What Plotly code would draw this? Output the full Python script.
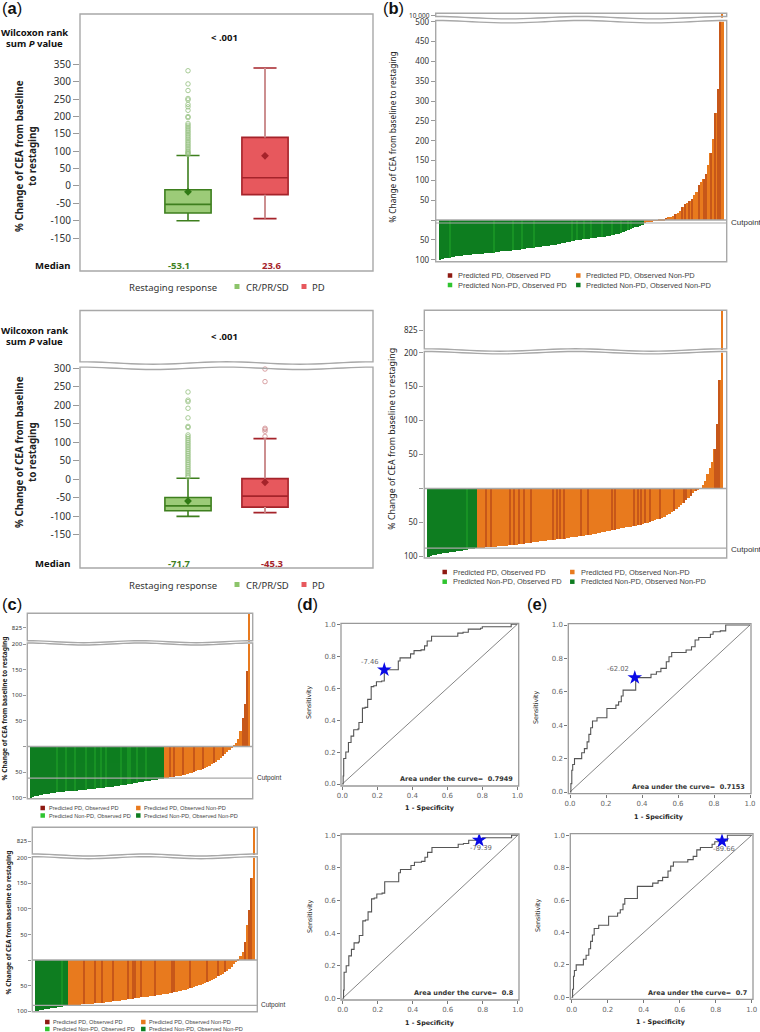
import plotly.graph_objects as go
import numpy as np

W, H = 760, 1032

# ---------- data ----------
box_groups = ["CR/PR/SD", "PD"]
a1_q1 = [-78, -25]; a1_median = [-53.1, 23.6]; a1_q3 = [-11, 140]
a1_low = [-100, -94]; a1_up = [88, 340]; a1_mean = [-17, 87]
a1_out_green = [332, 294, 275, 252, 248, 235, 228, 218, 200, 197, 180, 175, 170, 165, 160, 155, 150, 145, 140, 135,
                130, 125, 120, 115, 110, 105, 100, 97, 94, 91]
a1_out_red = []
a2_q1 = [-85, -75]; a2_median = [-71.7, -45.3]; a2_q3 = [-49, 2]
a2_low = [-100, -90]; a2_up = [3, 110]; a2_mean = [-58.5, -8]
a2_out_green = [236, 214, 210, 192, 166, 143, 140, 120, 115, 110, 105, 100, 95, 90, 85, 80, 75, 70, 65, 60, 55, 50,
                45, 40, 35, 30, 25, 20, 15, 10, 6]
a2_out_red = [298, 264, 138, 135, 130, 116]

wf_b1 = [-100, -97, -96, -95, -94, -93, -92, -91, -90, -89,
         -88, -87.5, -87, -86.5, -86, -85.5, -85, -84.5, -84, -83.5,
         -83, -82.5, -82, -81.5, -80, -79, -78, -77.5, -77, -76.5,
         -76, -75, -74.5, -74, -73.5, -72, -71, -70.5, -70, -69,
         -68.5, -68, -67, -66, -65.5, -65, -64, -63, -62, -61,
         -60, -59, -58, -57, -55.5, -54, -52.5, -51, -50, -49.5,
         -48.5, -48, -47, -46, -45, -44.5, -44, -43, -42, -41.5,
         -41, -40, -39, -37.5, -36, -35, -33.6, -31, -29, -27,
         -25, -22, -20, -18, -16, -14, -11, -7, -5, -3,
         -2, -1, 0.5, 1, 2, 4, 6, 8, 9, 12,
         15, 19, 24, 33, 40, 44, 50, 55, 63, 72,
         90, 97, 103, 118, 140, 170, 205, 270, 330, 520, 10500]
wf_b1_obs_pd = [4, 23, 31, 35, 40, 56, 58, 61, 64, 69, 73, 77, 80, 81,
                96, 100, 103, 104, 106, 107, 110, 112, 113, 115, 117, 118, 119]
wf_b2 = [-100, -99, -98, -97, -96.5, -96, -95, -94.5, -94, -93.5,
         -93, -92.5, -92, -91.5, -91, -90.5, -90, -89.5, -89, -88.5,
         -88, -87.5, -87.2, -87, -86.5, -86.2, -86, -85.7, -85.4, -85,
         -84.7, -84.4, -84, -83.7, -83.4, -83, -82.7, -82.3, -82, -81.5,
         -81, -80.5, -80, -79.5, -79, -78.5, -78, -77.5, -77, -76.5,
         -76, -75.7, -75.3, -75, -74.7, -74.3, -74, -73.5, -73, -72.3,
         -71.7, -71, -70.5, -70, -69.5, -69, -68.5, -68, -67.5, -67,
         -66, -65.3, -64.7, -64, -63.3, -62.5, -62, -61, -60.3, -59.5,
         -59, -58.5, -58, -57, -56.5, -56, -55.3, -54.7, -53.5, -53,
         -52, -51, -50, -49, -48, -46.5, -45, -44, -43, -41,
         -39, -37, -35, -33, -30, -27, -24, -21, -17, -14,
         -10, -7, -4, -1, 1, 5, 12, 22, 30, 40, 59, 95, 160, 900]
wf_b2_obs_pd = [16, 24, 26, 34, 36, 38, 40, 43, 52, 54, 55, 57, 64, 67, 77, 78, 86, 88, 89, 91, 93, 97, 103, 107, 108,
                110, 112, 120, 121, 122]
wf_c1 = [-100, -98.5, -97.5, -96.5, -95.5, -94.5, -93.5, -93, -92, -91.5,
         -91, -90, -89, -88.7, -88.4, -88, -87.7, -87.4, -87, -86.7,
         -86.4, -86, -85.5, -85, -84.7, -84.3, -84, -83.5, -83, -82.5,
         -82, -81.5, -81, -80.5, -80, -79.5, -79, -78.3, -77.7, -77,
         -76.5, -76, -75.2, -74.5, -73.8, -73.2, -72.5, -71.7, -71, -70.2,
         -69.5, -69, -68.2, -67.5, -67, -66.2, -65.5, -65, -64.3, -63.6,
         -63, -62, -61, -60.3, -59.5, -59, -58.2, -57.5, -56.7, -56,
         -55.5, -54, -52.5, -51, -49.5, -48, -46, -45, -44, -42,
         -40, -38, -35, -33, -31, -27, -23, -18, -14, -10,
         -6, -2, 1, 6, 15, 30, 55, 83, 148, 900]
wf_c1_obs_pd = [12, 16, 20, 25, 29, 32, 34, 41, 44, 45, 48, 52, 63, 65, 69, 74, 78, 83, 87, 96, 97, 98]
wf_c2 = [-100, -99, -98, -97, -96, -95, -94.5, -94, -93, -92.3,
         -91.6, -91, -90.3, -89.6, -89, -88.5, -88, -87.6, -87.3, -87,
         -86.6, -86.2, -85.8, -85.4, -85, -84.7, -84.4, -84, -83.6, -83.3,
         -83, -82.5, -82, -81.5, -81, -80.4, -79.8, -79.2, -78.6, -78,
         -77.5, -77, -76.3, -75.7, -75, -74.4, -73.8, -73.2, -72.6, -72,
         -71.4, -70.8, -70.2, -69.5, -69, -68.5, -68, -67.3, -66.6, -65.8,
         -65, -64, -63, -62, -61, -60, -59, -58, -57.2, -56.5,
         -55, -53.5, -52, -50.5, -49, -47.5, -46, -44.5, -43, -41,
         -39, -37, -34, -31, -29, -26, -23, -20, -17, -13,
         -8, -3, 2, 8, 16, 35, 70, 98, 160, 900]
wf_c2_obs_pd = [12, 22, 27, 30, 35, 42, 44, 45, 48, 54, 62, 63, 70, 78, 83, 86, 95, 97, 98]

cut_b1, cut_b2, cut_c1, cut_c2 = -7.46, -88, -62.02, -88.8
legend_labels = ["Predicted PD, Observed PD", "Predicted PD, Observed Non-PD",
                 "Predicted Non-PD, Observed PD", "Predicted Non-PD, Observed Non-PD"]

roc_d_fpr = [0, 0.005, 0.008, 0.02, 0.035, 0.05, 0.065, 0.09, 0.095, 0.11, 0.115, 0.13, 0.145, 0.165, 0.18, 0.195,
             0.225, 0.24, 0.30, 0.32, 0.33, 0.365, 0.39, 0.41, 0.45, 0.47, 0.485, 0.505, 0.51, 0.655, 0.66, 0.69,
             0.72, 0.79, 0.80, 0.96, 0.965, 1]
roc_d_tpr = [0, 0.05, 0.16, 0.20, 0.26, 0.30, 0.34, 0.345, 0.385, 0.385, 0.475, 0.48, 0.53, 0.61, 0.615, 0.64,
             0.645, 0.715, 0.715, 0.77, 0.79, 0.79, 0.815, 0.835, 0.84, 0.865, 0.895, 0.895, 0.925, 0.925, 0.945, 0.95,
             0.97, 0.975, 0.985, 0.985, 1, 1]
roc_e_fpr = [0, 0.005, 0.01, 0.015, 0.025, 0.06, 0.065, 0.08, 0.095, 0.105, 0.115, 0.125, 0.15, 0.2, 0.205, 0.25,
             0.255, 0.27, 0.285, 0.295, 0.36, 0.365, 0.44, 0.45, 0.48, 0.505, 0.53, 0.535, 0.55, 0.565, 0.64, 0.645,
             0.675, 0.695, 0.715, 0.775, 0.78, 0.795, 0.835, 0.865, 1]
roc_e_tpr = [0, 0.05, 0.13, 0.165, 0.2, 0.2, 0.235, 0.26, 0.3, 0.345, 0.385, 0.425, 0.445, 0.445, 0.5, 0.5,
             0.52, 0.54, 0.575, 0.61, 0.61, 0.685, 0.685, 0.705, 0.72, 0.74, 0.74, 0.78, 0.81, 0.835, 0.835, 0.85,
             0.87, 0.91, 0.925, 0.925, 0.945, 0.96, 0.965, 1, 1]

# ---------- helpers ----------
C_FRAME = "#A8A8A8"
ORANGE, DRED, LGREEN, DGREEN = "#E87A1E", "#8E1A12", "#2FC42F", "#0E7D20"
SANS, ARIAL, DEJA = "Noto Sans", "Liberation Sans", "DejaVu Sans"
fig = go.Figure()
layout = {}
shapes, annots = [], []
ax_n = [0]


def fx(x): return x / W
def fy(y): return 1 - y / H


def new_axes(x0, x1, y0, y1, xcfg, ycfg):
    ax_n[0] += 1
    n = ax_n[0]
    s = "" if n == 1 else str(n)
    layout["xaxis" + s] = dict(domain=[fx(x0), fx(x1)], anchor="y" + s, showgrid=False, zeroline=False,
                               automargin=False, **xcfg)
    layout["yaxis" + s] = dict(domain=[fy(y1), fy(y0)], anchor="x" + s, showgrid=False, zeroline=False,
                               automargin=False, **ycfg)
    return "x" + s, "y" + s


def txt(x, y, text, size=9, color="#222", font=SANS, anchor="center", angle=0):
    annots.append(dict(x=fx(x), y=fy(y), xref="paper", yref="paper", text=text, showarrow=False, xanchor=anchor,
                       yanchor="middle", textangle=angle, align="center",
                       font=dict(size=size, color=color, family=font), borderpad=0))


def wave(x0, x1, y, amp):
    xs = np.linspace(x0, x1, 41)
    ys = y + amp * np.cos((xs - x0) / (x1 - x0) * 2 * np.pi * 2 + np.pi)
    return list(zip(xs, ys))


def frame(x0, x1, y0, y1, top=0.0, bot=0.0, color=C_FRAME, lw=1.4):
    pts = []
    pts += wave(x0, x1, y0, top) if top else [(x0, y0), (x1, y0)]
    pts += wave(x0, x1, y1, bot)[::-1] if bot else [(x1, y1), (x0, y1)]
    d = "M " + " L ".join(f"{fx(a):.5f},{fy(b):.5f}" for a, b in pts) + " Z"
    shapes.append(dict(type="path", path=d, xref="paper", yref="paper", line=dict(color=color, width=lw),
                       layer="above"))


def square(x, y, color, s=5):
    shapes.append(dict(type="rect", xref="paper", yref="paper", x0=fx(x - s / 2), x1=fx(x + s / 2), y0=fy(y + s / 2),
                       y1=fy(y - s / 2), fillcolor=color, line=dict(width=0)))


def yaxis_cfg(y_at_top, y_at_bot, vals, texts, size, font=SANS, tlen=5, color="#333", tcolor="#999"):
    return dict(range=[y_at_bot, y_at_top], tickmode="array", tickvals=vals, ticktext=texts, ticks="outside",
                ticklen=tlen, tickcolor=tcolor, tickwidth=1, tickfont=dict(size=size, color=color, family=font))


def box_panel(x0, x1, y0, y1, ytop, ybot, ticks, q1, med, q3, low, up, mean, out_g, out_r, pale_stems):
    xa, ya = new_axes(x0, x1, y0, y1,
                      dict(type="category", categoryorder="array", categoryarray=box_groups,
                           range=[-1.4025, 2.4025], visible=False),
                      yaxis_cfg(ytop, ybot, ticks, [str(t) for t in ticks], 10, tlen=6))
    fills = ["#9CCB78", "#E7585D"]
    lines = ["#3E7F1E", "#A5232A"]
    outc = ["#93BF7E", "#CF8C8E"]
    outs = [out_g, out_r]
    for i, g in enumerate(box_groups):
        fig.add_trace(go.Box(x=[g], q1=[q1[i]], median=[med[i]], q3=[q3[i]], lowerfence=[low[i]], upperfence=[up[i]],
                             width=0.6, whiskerwidth=0.5, fillcolor=fills[i], line=dict(color=lines[i], width=1.6),
                             xaxis=xa, yaxis=ya, boxpoints=False, showlegend=False, name=g))
        if pale_stems[i]:
            fig.add_trace(go.Scatter(x=[g, g], y=[q3[i], up[i]], mode="lines", xaxis=xa, yaxis=ya, showlegend=False,
                                     line=dict(color="#CC8F90", width=2)))
            fig.add_trace(go.Scatter(x=[g, g], y=[low[i], q1[i]], mode="lines", xaxis=xa, yaxis=ya, showlegend=False,
                                     line=dict(color="#CC8F90", width=2)))
        if outs[i]:
            fig.add_trace(go.Scatter(x=[g] * len(outs[i]), y=outs[i], mode="markers", xaxis=xa, yaxis=ya,
                                     showlegend=False, cliponaxis=False,
                                     marker=dict(symbol="circle-open", size=4.5, color=outc[i], line=dict(width=0.8))))
        fig.add_trace(go.Scatter(x=[g], y=[mean[i]], mode="markers", xaxis=xa, yaxis=ya, showlegend=False,
                                 marker=dict(symbol="diamond", size=6, color=lines[i] if i else "#2F7A14")))


def box_text(dy, med):
    txt(34.5, 32 + dy, "<b>Wilcoxon rank</b>", 9.5, "#111", anchor="center")
    txt(34.5, 44 + dy, "<b>sum <i>P</i> value</b>", 9.5, "#111", anchor="center")
    txt(225, 38 + dy, "<b>&lt; .001</b>", 9.5, "#111")
    txt(53, 265 + dy, "<b>Median</b>", 9.5, "#111")
    txt(179, 265 + dy, f"<b>{med[0]}</b>", 9.5, "#3E7F1E")
    txt(272, 265 + dy, f"<b>{med[1]}</b>", 9.5, "#A5232A")
    txt(128, 287 + dy, "Restaging response", 9.5, "#333", anchor="left")
    square(237, 286.5 + dy, "#8CC46A")
    txt(244.5, 287 + dy, box_groups[0], 9.5, "#333", anchor="left")
    square(304, 286.5 + dy, "#E7585D")
    txt(311, 287 + dy, box_groups[1], 9.5, "#333", anchor="left")


def waterfall(values, obs_pd, cut, fx0, fx1, bar0, bar1, st0, st1, lo0, lo1, ytop, ybot, lo_ticks, st_range, st_tick,
              st_label, tick_size, tlen, wave_amp, st_size=None):
    n = len(values)
    p = (bar1 - bar0) / n
    xr = [-0.5 - (bar0 - fx0) / p, n - 0.5 + (fx1 - bar1) / p]
    idx = list(range(n))
    texts = [str(abs(t)) if t != 0 else "" for t in lo_ticks]
    x_up, y_up = new_axes(fx0, fx1, st0, st1, dict(range=xr, visible=False),
                          yaxis_cfg(st_range[1], st_range[0], [st_tick], [st_label], st_size or tick_size, tlen=tlen))
    x_lo, y_lo = new_axes(fx0, fx1, lo0, lo1, dict(range=xr, visible=False),
                          yaxis_cfg(ytop, ybot, lo_ticks, texts, tick_size, tlen=tlen))
    pred_pd = [i for i in idx if values[i] > cut]
    pred_non = [i for i in idx if values[i] <= cut]
    obs_a = [i for i in obs_pd if values[i] > cut]
    obs_b = [i for i in obs_pd if values[i] <= cut]
    common = dict(marker_line_width=0, showlegend=False)
    fig.add_trace(go.Bar(x=pred_non, y=[values[i] for i in pred_non], width=1.0, marker_color=DGREEN, xaxis=x_lo,
                         yaxis=y_lo, **common))
    fig.add_trace(go.Bar(x=pred_pd, y=[values[i] for i in pred_pd], width=1.0, marker_color=ORANGE, xaxis=x_lo,
                         yaxis=y_lo, **common))
    fig.add_trace(go.Bar(x=obs_b, y=[values[i] for i in obs_b], width=0.45, marker_color=LGREEN, opacity=0.3,
                         xaxis=x_lo, yaxis=y_lo, **common))
    fig.add_trace(go.Bar(x=obs_a, y=[values[i] for i in obs_a], width=0.45, marker_color=DRED, opacity=0.36,
                         xaxis=x_lo, yaxis=y_lo, **common))
    high = [i for i in idx if values[i] > st_range[0]]
    fig.add_trace(go.Bar(x=high, y=[values[i] for i in high], width=0.5, marker_color=ORANGE, xaxis=x_up, yaxis=y_up,
                         **common))
    shapes.append(dict(type="line", xref=x_lo + " domain", yref=y_lo, x0=0, x1=1, y0=0, y1=0,
                       line=dict(color=C_FRAME, width=1.4), layer="above"))
    shapes.append(dict(type="line", xref=x_lo + " domain", yref=y_lo, x0=0, x1=1, y0=cut, y1=cut,
                       line=dict(color=C_FRAME, width=1.2), layer="above"))
    frame(fx0, fx1, st0, st1, bot=wave_amp)
    frame(fx0, fx1, lo0, lo1, top=wave_amp)


def wf_legend(xs1, xs2, xt1, xt2, y1, y2, size):
    square(xs1, y1, DRED, 4.5); txt(xt1, y1, legend_labels[0], size, "#444", ARIAL, "left")
    square(xs2, y1, ORANGE, 4.5); txt(xt2, y1, legend_labels[1], size, "#444", ARIAL, "left")
    square(xs1, y2, LGREEN, 4.5); txt(xt1, y2, legend_labels[2], size, "#444", ARIAL, "left")
    square(xs2, y2, DGREEN, 4.5); txt(xt2, y2, legend_labels[3], size, "#444", ARIAL, "left")


def roc(fpr, tpr, star, star_label, lab_xy, auc, ax_x0, ax_x1, ax_y1, ax_y0, f_x0, f_x1, f_y0, f_y1, auc_xy, sens_xy,
        spec_xy):
    p = (ax_x1 - ax_x0)
    q = (ax_y0 - ax_y1)
    xr = [(f_x0 - ax_x0) / p, (f_x1 - ax_x0) / p]
    yr = [(ax_y0 - f_y1) / q, (ax_y0 - f_y0) / q]
    ticks = [0, 0.2, 0.4, 0.6, 0.8, 1.0]
    labels = ["0.0", "0.2", "0.4", "0.6", "0.8", "1.0"]
    tf = dict(size=7, color="#666", family=DEJA)
    xa, ya = new_axes(f_x0, f_x1, f_y0, f_y1,
                      dict(range=xr, tickmode="array", tickvals=ticks, ticktext=labels, ticks="outside", ticklen=3,
                           tickcolor="#777", tickfont=tf),
                      dict(range=yr, tickmode="array", tickvals=ticks, ticktext=labels, ticks="outside", ticklen=3,
                           tickcolor="#777", tickfont=tf))
    fig.add_trace(go.Scatter(x=[0, 1], y=[0, 1], mode="lines", line=dict(color="#777", width=0.9), xaxis=xa, yaxis=ya,
                             showlegend=False))
    fig.add_trace(go.Scatter(x=fpr, y=tpr, mode="lines", line=dict(color="#555", width=1.1, shape="hv"), xaxis=xa,
                             yaxis=ya, showlegend=False))
    fig.add_trace(go.Scatter(x=[star[0]], y=[star[1]], mode="markers", xaxis=xa, yaxis=ya, showlegend=False,
                             marker=dict(symbol="star", size=11, color="#0A0AE6", line=dict(width=0))))
    frame(f_x0, f_x1, f_y0, f_y1, color="#999", lw=1.3)
    txt(lab_xy[0], lab_xy[1], star_label, 6.8, "#666", DEJA)
    txt(auc_xy[0], auc_xy[1], f"<b>Area under the curve=  {auc}</b>", 6.5, "#333", DEJA, "right")
    txt(sens_xy[0], sens_xy[1], "Sensitivity", 6.4, "#222", DEJA, angle=-90)
    txt(spec_xy[0], spec_xy[1], "<b>1 - Specificity</b>", 6.4, "#222", DEJA)


# ---------- panel a ----------
ticks_a1 = [350, 300, 250, 200, 150, 100, 50, 0, -50, -100, -150]
box_panel(80, 373, 14, 271, 495.5, -245, ticks_a1, a1_q1, a1_median, a1_q3, a1_low, a1_up, a1_mean, a1_out_green,
          a1_out_red, [False, True])
frame(80, 373, 14, 271)
box_text(0, a1_median)
txt(26, 156, "<b>% Change of CEA from baseline<br>to restaging</b>", 9.8, "#222", angle=-90)

ticks_a2 = [300, 250, 200, 150, 100, 50, 0, -50, -100, -150]
box_panel(80, 373, 368.3, 568, 300, -239.5, ticks_a2, a2_q1, a2_median, a2_q3, a2_low, a2_up, a2_mean, a2_out_green,
          a2_out_red, [False, True])
frame(80, 373, 310.5, 363, bot=1.2)
frame(80, 373, 368.3, 568, top=1.2)
box_text(298, a2_median)
txt(26, 452, "<b>% Change of CEA from baseline<br>to restaging</b>", 9.8, "#222", angle=-90)

# ---------- panel b ----------
waterfall(wf_b1, wf_b1_obs_pd, cut_b1, 435.7, 726.7, 438.7, 723.3, 13.3, 17.7, 21.7, 261.7, 500, -105,
          [500, 450, 400, 350, 300, 250, 200, 150, 100, 50, 0, -50, -100], [9500, 10500], 10000, "10 000", 8, 4, 1.2,
          st_size=6.5)
txt(391.7, 137, "% Change of CEA from baseline to restaging", 8.3, "#222", SANS, angle=-90)
txt(730, 223, "Cutpoint", 8, "#333", ARIAL, "left")
wf_legend(450, 578.3, 457, 585, 275.5, 285, 7.45)

waterfall(wf_b2, wf_b2_obs_pd, cut_b2, 424.3, 726.7, 427.7, 723.3, 310.3, 350, 352.7, 558, 200, -102.5,
          [200, 150, 100, 50, 0, -50, -100], [750, 900], 825, "825", 8, 4, 1.2)
txt(391.7, 439, "% Change of CEA from baseline to restaging", 8.8, "#222", SANS, angle=-90)
txt(730, 549, "Cutpoint", 8, "#333", ARIAL, "left")
wf_legend(444.7, 572.3, 451.7, 579.7, 572, 581.7, 7.45)

# ---------- panel c ----------
waterfall(wf_c1, wf_c1_obs_pd, cut_c1, 27.3, 252.7, 30, 250.7, 613.3, 641.7, 644, 798.7, 200, -102,
          [200, 150, 100, 50, 0, -50, -100], [750, 900], 825, "825", 6, 3, 1)
txt(3.5, 709, "<b>% Change of CEA from baseline to restaging</b>", 6.6, "#222", SANS, angle=-90)
txt(255.7, 777.7, "Cutpoint", 6.5, "#333", ARIAL, "left")
wf_legend(42.7, 138.3, 47.7, 143.3, 808, 815.5, 5.6)

waterfall(wf_c2, wf_c2_obs_pd, cut_c2, 32.3, 257.3, 35, 255, 827.3, 855, 857.7, 1011.7, 200, -101,
          [200, 150, 100, 50, 0, -50, -100], [750, 900], 825, "825", 6, 3, 1)
txt(7.5, 923, "<b>% Change of CEA from baseline to restaging</b>", 6.6, "#222", SANS, angle=-90)
txt(260, 1005, "Cutpoint", 6.5, "#333", ARIAL, "left")
wf_legend(47.3, 143.3, 52.3, 148, 1022, 1029, 5.6)

# ---------- panels d, e ----------
roc(roc_d_fpr, roc_d_tpr, (0.24, 0.715), "-7.46", (370, 662), "0.7949", 342.3, 517.3, 624.3, 784, 341, 518.7, 623.3,
    786, (514, 778.7), (309, 703), (430, 808))
roc(roc_d_fpr, roc_d_tpr, (0.78, 0.97), "-79.39", (480.7, 848), "0.8", 342.7, 517.7, 835.3, 998.3, 341, 519, 834,
    1000, (515, 993), (310, 917), (430, 1023))
roc(roc_e_fpr, roc_e_tpr, (0.36, 0.685), "-62.02", (618, 669), "0.7153", 570, 750, 625, 792, 568.3, 751, 623.7, 793.7,
    (746, 786.7), (536, 708), (659, 817))
roc(roc_e_fpr, roc_e_tpr, (0.835, 0.965), "-89.66", (724, 849), "0.7", 571.7, 751.7, 835.3, 997.3, 570.3, 753, 833.7,
    999.3, (748, 992.7), (538, 916), (661, 1022))

# ---------- panel labels ----------
for x, y, s in [(1, 8, "a"), (382, 8, "b"), (1, 604, "c"), (296, 604, "d"), (526, 604, "e")]:
    txt(x, y, f"(<b>{s}</b>)", 16.5, "#111", ARIAL, "left")

fig.update_layout(width=W, height=H, margin=dict(l=0, r=0, t=0, b=0), paper_bgcolor="white", plot_bgcolor="white",
                  barmode="overlay", bargap=0, showlegend=False, shapes=shapes, annotations=annots, **layout)
fig.write_html("out.html", config=dict(displayModeBar=False),
               post_script="document.body.style.margin='0';document.documentElement.style.overflow='hidden';")
